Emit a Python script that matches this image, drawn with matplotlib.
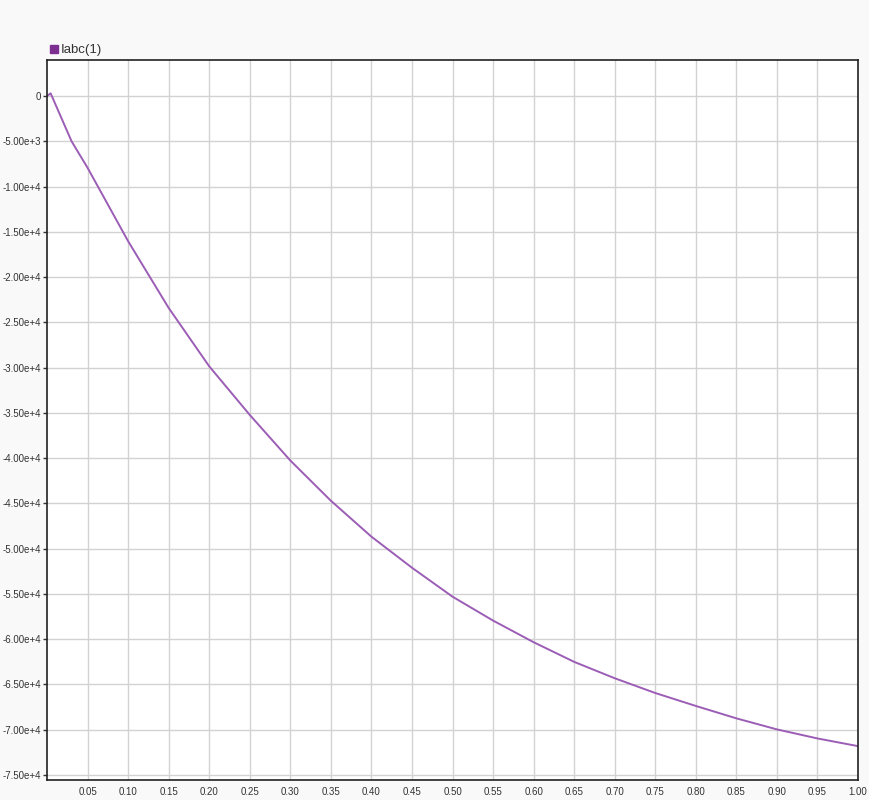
import matplotlib.pyplot as plt
from matplotlib.lines import Line2D
from matplotlib.ticker import FuncFormatter

# Iabc(1) trace, values
t = [0.0, 0.0045, 0.0303, 0.05, 0.10, 0.15, 0.20, 0.25, 0.30, 0.35,
     0.40, 0.45, 0.50, 0.55, 0.60, 0.65, 0.70, 0.75, 0.80, 0.85,
     0.90, 0.95, 1.00]
iabc = [0, 295, -5000, -7924, -16032, -23403, -29852, -35220, -40257, -44700,
        -48670, -52100, -55300, -57940, -60330, -62500, -64310, -65940, -67370, -68740,
        -69960, -70960, -71810]

x_ticks = [round(0.05 * i, 2) for i in range(1, 21)]
y_ticks = [-5000 * i for i in range(0, 16)]

fig = plt.figure(figsize=(8.69, 8.0), dpi=100, facecolor='#f9f9f9')
ax = fig.add_axes([47 / 869, 20 / 800, 811 / 869, 720 / 800])
ax.set_facecolor('white')

ax.plot(t, iabc, color='#9b5db5', linewidth=1.4)

ax.set_xlim(0, 1.0)
ax.set_ylim(-75550, 3980)
ax.set_xticks(x_ticks)
ax.set_yticks(y_ticks)
ax.xaxis.set_major_formatter(FuncFormatter(lambda v, p: f"{v:.2f}"))


def yfmt(v, p):
    if v == 0:
        return "0"
    return f"{v:.2e}".replace("e+0", "e+")


ax.yaxis.set_major_formatter(FuncFormatter(yfmt))
ax.grid(True, color='#d2d2d2', linewidth=1)
ax.set_axisbelow(True)
ax.tick_params(axis='both', labelsize=7, labelcolor='#333333', color='#333333',
               width=1, labelfontfamily='Liberation Sans')
ax.tick_params(axis='y', length=3, pad=1.5)
ax.tick_params(axis='x', length=0, pad=5)
for s in ax.spines.values():
    s.set_color('#222222')
    s.set_linewidth(1.2)

handle = Line2D([], [], marker='s', linestyle='none', markersize=6,
                markerfacecolor='#7d2e91', markeredgecolor='#7d2e91')
leg = ax.legend([handle], ['Iabc(1)'], loc='lower left', bbox_to_anchor=(-0.009, 0.994),
                frameon=False, handletextpad=0.0, handlelength=1.0, borderaxespad=0.2,
                prop={'family': 'Liberation Sans', 'size': 9.5})
for txt in leg.get_texts():
    txt.set_color('#333333')

fig.savefig('out.png', dpi=100, facecolor=fig.get_facecolor())
